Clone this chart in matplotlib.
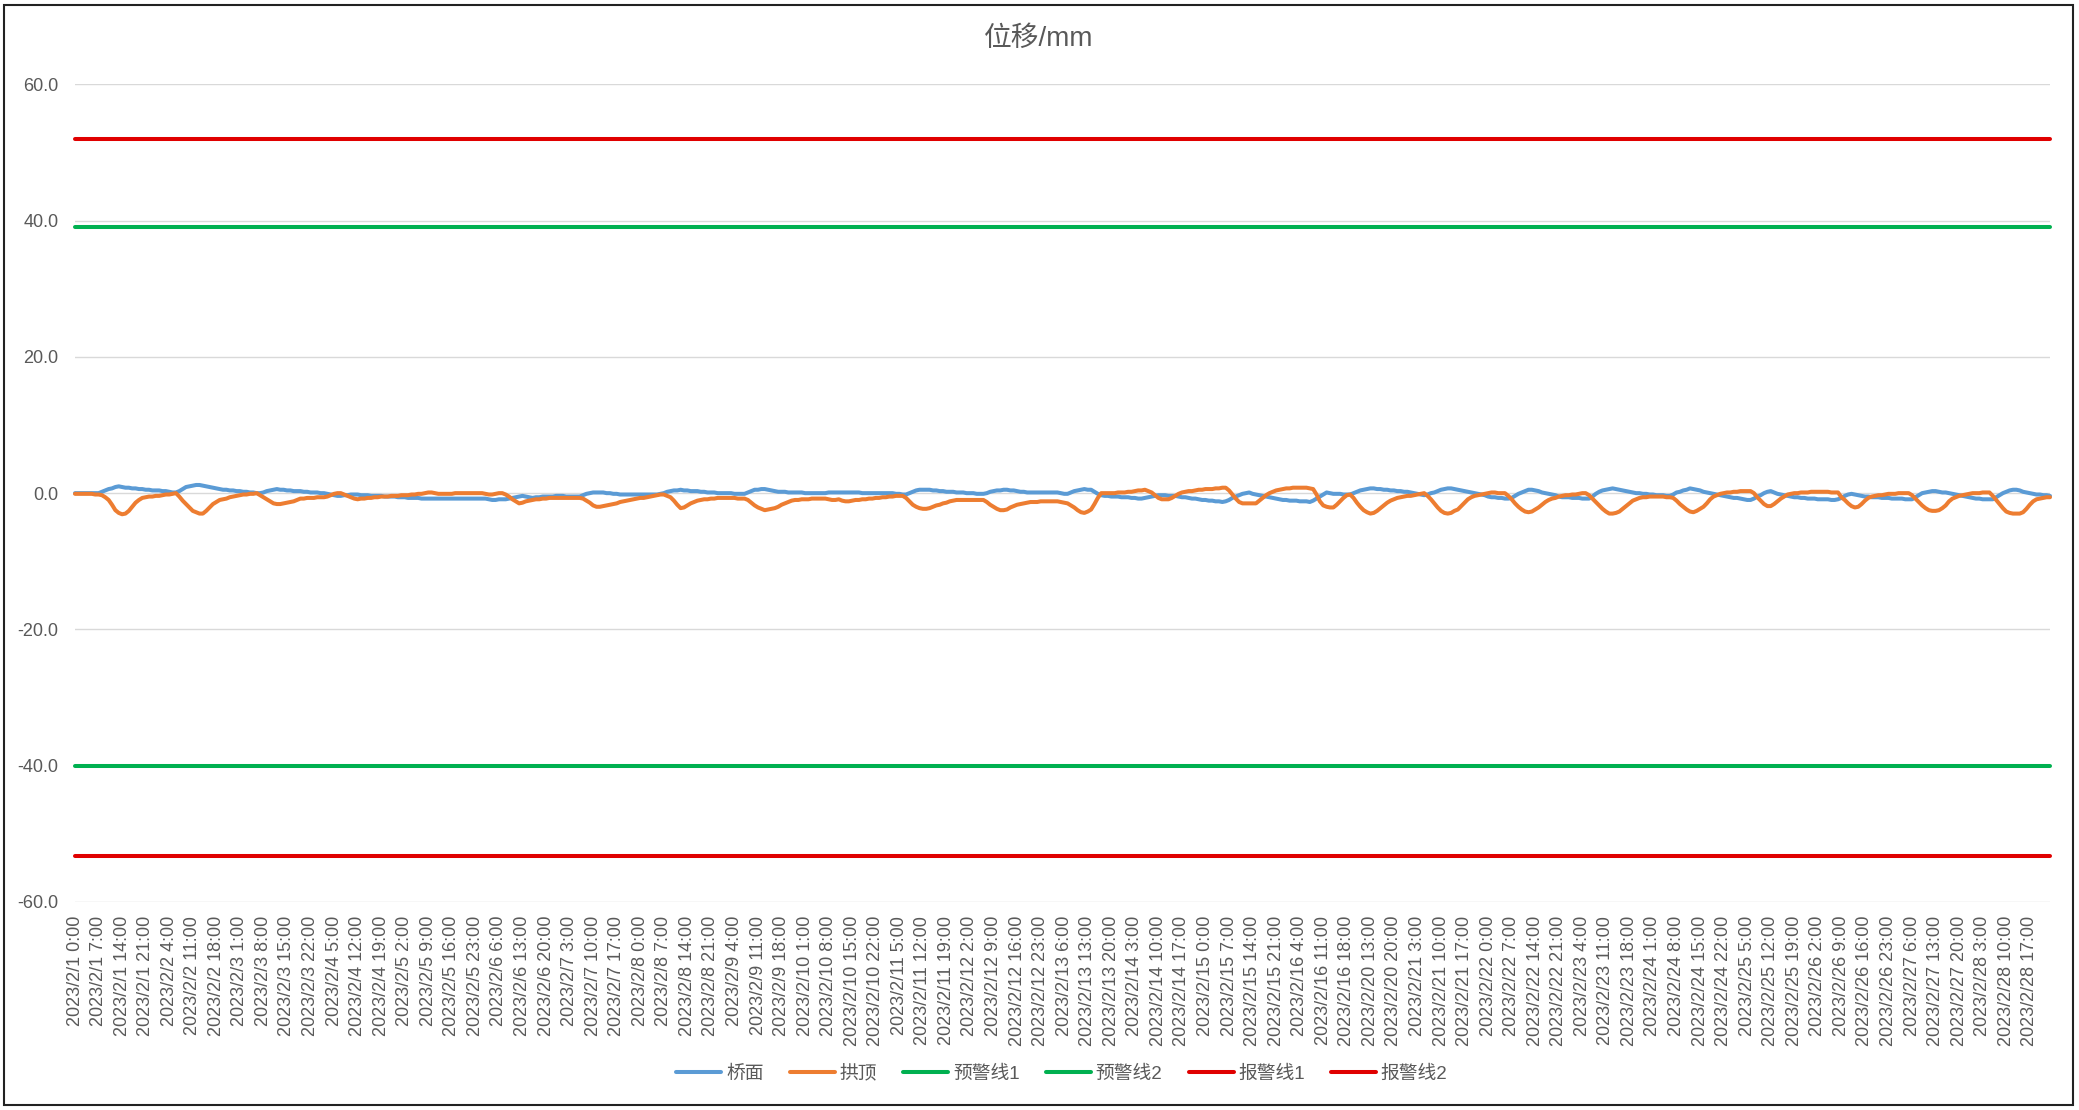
import numpy as np
import pandas as pd
import matplotlib
matplotlib.use("Agg")
import matplotlib.pyplot as plt
from matplotlib.patches import Rectangle

plt.rcParams['font.family'] = ['Liberation Sans', 'Noto Sans CJK SC', 'DejaVu Sans']

# ---------------- data ----------------
# hourly categories (data gap between 2/16 21:00 and 2/20 10:00)
seg1_start, seg1_periods = "2023-02-01 00:00", 382
seg2_start, seg2_periods = "2023-02-20 10:00", 206

series_names = ["桥面", "拱顶", "预警线1", "预警线2", "报警线1", "报警线2"]

qiaomian = [
    0.0, 0.0, 0.0, 0.0, 0.0, 0.0, 0.0, 0.0, 0.2, 0.4,
    0.6, 0.7, 0.9, 1.0, 0.9, 0.8, 0.8, 0.7, 0.7, 0.6,
    0.6, 0.5, 0.5, 0.4, 0.4, 0.4, 0.3, 0.3, 0.2, 0.1,
    0.1, 0.3, 0.6, 0.9, 1.0, 1.1, 1.2, 1.2, 1.1, 1.0,
    0.9, 0.8, 0.7, 0.6, 0.5, 0.5, 0.4, 0.4, 0.3, 0.3,
    0.2, 0.2, 0.1, 0.1, 0.0, 0.0, 0.1, 0.3, 0.4, 0.5,
    0.6, 0.5, 0.5, 0.4, 0.4, 0.3, 0.3, 0.3, 0.2, 0.2,
    0.1, 0.1, 0.1, 0.0, 0.0, -0.1, -0.2, -0.3, -0.4, -0.4,
    -0.3, -0.3, -0.2, -0.2, -0.2, -0.3, -0.3, -0.3, -0.4, -0.4,
    -0.4, -0.4, -0.5, -0.5, -0.5, -0.5, -0.6, -0.6, -0.6, -0.7,
    -0.7, -0.7, -0.7, -0.8, -0.8, -0.8, -0.8, -0.8, -0.8, -0.8,
    -0.8, -0.8, -0.8, -0.8, -0.8, -0.8, -0.8, -0.8, -0.8, -0.8,
    -0.8, -0.8, -0.8, -0.9, -1.0, -1.0, -0.9, -0.9, -0.9, -0.8,
    -0.7, -0.6, -0.5, -0.4, -0.5, -0.6, -0.7, -0.6, -0.6, -0.5,
    -0.5, -0.5, -0.5, -0.4, -0.4, -0.4, -0.5, -0.5, -0.5, -0.5,
    -0.5, -0.3, -0.1, 0.0, 0.1, 0.1, 0.1, 0.1, 0.0, 0.0,
    -0.1, -0.1, -0.2, -0.2, -0.2, -0.2, -0.2, -0.2, -0.2, -0.2,
    -0.2, -0.2, -0.2, -0.2, -0.1, 0.0, 0.2, 0.3, 0.4, 0.4,
    0.5, 0.4, 0.4, 0.3, 0.3, 0.3, 0.2, 0.2, 0.1, 0.1,
    0.1, 0.0, 0.0, 0.0, 0.0, 0.0, -0.1, -0.1, -0.1, -0.1,
    0.1, 0.3, 0.5, 0.5, 0.6, 0.6, 0.5, 0.4, 0.3, 0.2,
    0.2, 0.2, 0.1, 0.1, 0.1, 0.1, 0.1, 0.0, 0.0, 0.0,
    0.0, 0.0, 0.0, 0.0, 0.1, 0.1, 0.1, 0.1, 0.1, 0.1,
    0.1, 0.1, 0.1, 0.1, 0.0, 0.0, 0.0, 0.0, 0.0, 0.0,
    0.0, 0.0, 0.0, 0.0, -0.1, -0.1, -0.2, -0.2, 0.0, 0.2,
    0.4, 0.5, 0.5, 0.5, 0.5, 0.4, 0.4, 0.3, 0.3, 0.2,
    0.2, 0.2, 0.1, 0.1, 0.1, 0.0, 0.0, 0.0, -0.1, -0.1,
    -0.1, 0.0, 0.2, 0.3, 0.4, 0.4, 0.5, 0.5, 0.4, 0.4,
    0.3, 0.2, 0.2, 0.1, 0.1, 0.1, 0.1, 0.1, 0.1, 0.1,
    0.1, 0.1, 0.1, 0.0, -0.1, -0.1, 0.1, 0.3, 0.4, 0.5,
    0.6, 0.5, 0.5, 0.2, -0.1, -0.3, -0.4, -0.4, -0.5, -0.5,
    -0.5, -0.6, -0.6, -0.6, -0.7, -0.7, -0.8, -0.8, -0.7, -0.6,
    -0.5, -0.4, -0.3, -0.3, -0.3, -0.4, -0.4, -0.4, -0.5, -0.6,
    -0.6, -0.7, -0.8, -0.8, -0.9, -1.0, -1.0, -1.1, -1.1, -1.2,
    -1.2, -1.3, -1.2, -1.0, -0.7, -0.5, -0.3, -0.1, 0.0, 0.1,
    -0.1, -0.2, -0.3, -0.4, -0.5, -0.6, -0.7, -0.8, -0.9, -1.0,
    -1.0, -1.1, -1.1, -1.1, -1.2, -1.2, -1.2, -1.3, -1.1, -0.8,
    -0.5, -0.2, 0.1, 0.0, -0.1, -0.1, -0.1, -0.2, -0.2, -0.2,
    0.0, 0.2, 0.4, 0.5, 0.6, 0.7, 0.7, 0.6, 0.6, 0.5,
    0.5, 0.4, 0.4, 0.3, 0.3, 0.2, 0.2, 0.1, 0.0, -0.1,
    -0.2, -0.3, -0.2, 0.0, 0.1, 0.3, 0.5, 0.6, 0.7, 0.7,
    0.6, 0.5, 0.4, 0.3, 0.2, 0.1, 0.0, -0.1, -0.2, -0.3,
    -0.5, -0.6, -0.6, -0.7, -0.7, -0.8, -0.8, -0.7, -0.4, -0.1,
    0.1, 0.3, 0.5, 0.5, 0.4, 0.3, 0.1, 0.0, -0.1, -0.2,
    -0.3, -0.5, -0.6, -0.6, -0.6, -0.7, -0.7, -0.7, -0.8, -0.8,
    -0.8, -0.5, -0.1, 0.2, 0.4, 0.5, 0.6, 0.7, 0.6, 0.5,
    0.4, 0.3, 0.2, 0.1, 0.0, 0.0, -0.1, -0.1, -0.2, -0.2,
    -0.3, -0.3, -0.3, -0.4, -0.4, -0.2, 0.1, 0.2, 0.4, 0.5,
    0.7, 0.6, 0.5, 0.4, 0.2, 0.1, 0.0, -0.1, -0.2, -0.3,
    -0.4, -0.5, -0.6, -0.7, -0.7, -0.8, -0.9, -1.0, -1.0, -0.8,
    -0.5, -0.3, 0.0, 0.2, 0.3, 0.1, -0.1, -0.2, -0.3, -0.4,
    -0.5, -0.6, -0.6, -0.7, -0.7, -0.8, -0.8, -0.8, -0.9, -0.9,
    -0.9, -0.9, -1.0, -1.0, -0.9, -0.7, -0.4, -0.2, -0.1, -0.2,
    -0.3, -0.4, -0.5, -0.5, -0.6, -0.6, -0.6, -0.7, -0.7, -0.7,
    -0.8, -0.8, -0.8, -0.8, -0.9, -0.9, -0.9, -0.6, -0.3, 0.0,
    0.1, 0.2, 0.3, 0.3, 0.2, 0.1, 0.1, 0.0, -0.1, -0.2,
    -0.3, -0.4, -0.5, -0.6, -0.7, -0.8, -0.8, -0.9, -0.9, -0.9,
    -0.9, -0.6, -0.3, 0.0, 0.2, 0.4, 0.5, 0.5, 0.4, 0.2,
    0.1, 0.0, -0.1, -0.2, -0.2, -0.3, -0.3, -0.4,
]

gongding = [
    -0.1, -0.1, -0.1, -0.1, -0.1, -0.1, -0.2, -0.2, -0.3, -0.6,
    -1.0, -1.7, -2.5, -2.9, -3.1, -3.0, -2.6, -2.0, -1.4, -1.0,
    -0.7, -0.6, -0.5, -0.5, -0.4, -0.4, -0.3, -0.2, -0.2, -0.1,
    0.0, -0.5, -1.1, -1.6, -2.1, -2.6, -2.8, -3.0, -3.0, -2.6,
    -2.1, -1.6, -1.3, -1.0, -0.9, -0.8, -0.6, -0.5, -0.4, -0.3,
    -0.2, -0.2, -0.1, -0.1, 0.0, -0.3, -0.6, -0.9, -1.2, -1.5,
    -1.6, -1.6, -1.5, -1.4, -1.3, -1.2, -1.0, -0.8, -0.8, -0.7,
    -0.7, -0.7, -0.6, -0.6, -0.6, -0.5, -0.3, -0.1, 0.0, 0.0,
    -0.2, -0.4, -0.6, -0.8, -0.9, -0.8, -0.8, -0.7, -0.7, -0.6,
    -0.6, -0.5, -0.5, -0.5, -0.4, -0.4, -0.4, -0.3, -0.3, -0.3,
    -0.2, -0.2, -0.1, -0.1, 0.0, 0.1, 0.1, 0.0, -0.1, -0.1,
    -0.1, -0.1, -0.1, 0.0, 0.0, 0.0, 0.0, 0.0, 0.0, 0.0,
    0.0, 0.0, -0.1, -0.2, -0.2, -0.1, 0.0, 0.0, -0.2, -0.5,
    -0.9, -1.2, -1.5, -1.4, -1.2, -1.1, -1.0, -0.9, -0.9, -0.8,
    -0.8, -0.7, -0.7, -0.7, -0.7, -0.7, -0.7, -0.7, -0.7, -0.7,
    -0.7, -0.8, -1.1, -1.4, -1.8, -2.0, -2.0, -1.9, -1.8, -1.7,
    -1.6, -1.5, -1.3, -1.2, -1.1, -1.0, -0.9, -0.8, -0.7, -0.7,
    -0.6, -0.5, -0.4, -0.3, -0.2, -0.2, -0.4, -0.6, -1.1, -1.7,
    -2.2, -2.1, -1.8, -1.5, -1.3, -1.1, -1.0, -0.9, -0.9, -0.8,
    -0.8, -0.7, -0.7, -0.7, -0.7, -0.7, -0.7, -0.8, -0.8, -0.8,
    -1.0, -1.4, -1.8, -2.1, -2.3, -2.5, -2.4, -2.3, -2.2, -2.0,
    -1.7, -1.5, -1.3, -1.1, -1.0, -1.0, -0.9, -0.9, -0.9, -0.8,
    -0.8, -0.8, -0.8, -0.8, -0.9, -1.0, -1.0, -0.9, -1.1, -1.2,
    -1.2, -1.1, -1.0, -1.0, -0.9, -0.9, -0.8, -0.8, -0.7, -0.7,
    -0.6, -0.6, -0.5, -0.5, -0.4, -0.4, -0.4, -0.7, -1.2, -1.7,
    -2.0, -2.2, -2.3, -2.3, -2.2, -2.0, -1.8, -1.7, -1.5, -1.4,
    -1.2, -1.1, -1.0, -1.0, -1.0, -1.0, -1.0, -1.0, -1.0, -1.0,
    -1.0, -1.3, -1.7, -2.0, -2.3, -2.5, -2.5, -2.4, -2.1, -1.9,
    -1.7, -1.6, -1.5, -1.4, -1.3, -1.3, -1.3, -1.2, -1.2, -1.2,
    -1.2, -1.2, -1.2, -1.3, -1.4, -1.5, -1.8, -2.1, -2.5, -2.8,
    -2.9, -2.7, -2.4, -1.6, -0.7, 0.0, 0.0, 0.0, 0.0, 0.0,
    0.1, 0.1, 0.1, 0.2, 0.2, 0.3, 0.4, 0.4, 0.5, 0.3,
    0.1, -0.3, -0.7, -0.9, -0.9, -0.9, -0.7, -0.4, -0.1, 0.1,
    0.2, 0.3, 0.3, 0.4, 0.5, 0.5, 0.6, 0.6, 0.6, 0.7,
    0.7, 0.8, 0.8, 0.4, -0.2, -0.8, -1.3, -1.5, -1.5, -1.5,
    -1.5, -1.5, -1.1, -0.7, -0.3, 0.0, 0.2, 0.4, 0.5, 0.6,
    0.7, 0.7, 0.8, 0.8, 0.8, 0.8, 0.8, 0.7, 0.6, -0.2,
    -1.2, -1.8, -2.0, -2.1, -2.1, -1.7, -1.2, -0.7, -0.3, -0.2,
    -0.7, -1.4, -2.0, -2.5, -2.8, -3.0, -2.9, -2.6, -2.2, -1.8,
    -1.4, -1.1, -0.9, -0.7, -0.6, -0.5, -0.4, -0.4, -0.3, -0.2,
    -0.1, 0.0, -0.4, -0.9, -1.5, -2.1, -2.6, -2.9, -3.0, -2.9,
    -2.6, -2.4, -1.9, -1.4, -0.9, -0.6, -0.4, -0.3, -0.2, -0.1,
    0.0, 0.1, 0.1, 0.0, 0.0, 0.0, -0.4, -0.9, -1.5, -2.0,
    -2.4, -2.7, -2.8, -2.7, -2.4, -2.1, -1.7, -1.3, -1.0, -0.8,
    -0.7, -0.5, -0.4, -0.3, -0.3, -0.2, -0.2, -0.1, 0.0, 0.0,
    -0.3, -0.8, -1.3, -1.8, -2.3, -2.7, -3.0, -3.0, -2.9, -2.7,
    -2.3, -1.9, -1.5, -1.1, -0.9, -0.7, -0.6, -0.6, -0.5, -0.5,
    -0.5, -0.5, -0.5, -0.6, -0.6, -0.7, -1.1, -1.6, -2.0, -2.4,
    -2.7, -2.8, -2.6, -2.3, -2.0, -1.5, -0.9, -0.5, -0.3, -0.1,
    0.0, 0.1, 0.1, 0.2, 0.2, 0.3, 0.3, 0.3, 0.3, 0.0,
    -0.6, -1.1, -1.6, -1.9, -1.9, -1.6, -1.2, -0.8, -0.5, -0.2,
    -0.1, 0.0, 0.0, 0.1, 0.1, 0.1, 0.2, 0.2, 0.2, 0.2,
    0.2, 0.2, 0.1, 0.1, 0.1, -0.6, -1.0, -1.5, -1.9, -2.1,
    -2.0, -1.6, -1.1, -0.7, -0.5, -0.4, -0.3, -0.3, -0.2, -0.1,
    -0.1, -0.1, 0.0, 0.0, 0.0, 0.0, -0.3, -0.8, -1.3, -1.8,
    -2.2, -2.5, -2.6, -2.6, -2.5, -2.2, -1.8, -1.2, -0.8, -0.6,
    -0.4, -0.3, -0.2, -0.1, 0.0, 0.0, 0.0, 0.1, 0.1, 0.1,
    -0.4, -1.0, -1.6, -2.2, -2.7, -2.9, -3.0, -3.0, -3.0, -2.8,
    -2.3, -1.7, -1.2, -0.9, -0.8, -0.7, -0.6, -0.6,
]

warn1_value = 39.0
warn2_value = -40.0
alarm1_value = 52.0
alarm2_value = -53.2

y_ticks = [-60, -40, -20, 0, 20, 40, 60]
label_step = 7

# ---------------- build ----------------
times = list(pd.date_range(seg1_start, periods=seg1_periods, freq="h")) + \
        list(pd.date_range(seg2_start, periods=seg2_periods, freq="h"))
cat_labels = [f"{t.year}/{t.month}/{t.day} {t.hour}:{t.minute:02d}" for t in times]
N = len(cat_labels)
x = np.arange(N)

W, H, DPI = 2079, 1110, 100
fig = plt.figure(figsize=(W / DPI, H / DPI), dpi=DPI)
ax = fig.add_axes([75 / W, 1 - 902 / H, (2050 - 75) / W, (902 - 84.3) / H])

text_color = "#595959"
lw = 2.9
series = [
    (qiaomian, "#5B9BD5"),
    (gongding, "#ED7D31"),
    ([warn1_value] * N, "#00B050"),
    ([warn2_value] * N, "#00B050"),
    ([alarm1_value] * N, "#E00000"),
    ([alarm2_value] * N, "#E00000"),
]
for name, (vals, col) in zip(series_names, series):
    ax.plot(x, vals, color=col, lw=lw, label=name, solid_capstyle="round",
            solid_joinstyle="round", clip_on=False)

ax.set_xlim(0, N - 1)
ax.set_ylim(-60, 60)
ax.set_yticks(y_ticks)
ax.set_yticklabels([f"{v:.1f}" for v in y_ticks])
ax.set_xticks(x[::label_step])
ax.set_xticklabels(cat_labels[::label_step], rotation=90, va="top", ha="center")
ax.tick_params(axis="x", length=0, pad=10, labelsize=13, labelcolor=text_color)
ax.tick_params(axis="y", length=0, pad=12, labelsize=13, labelcolor=text_color)
ax.yaxis.grid(True, color="#D9D9D9", lw=1.0)
ax.set_axisbelow(True)
for s in ax.spines.values():
    s.set_visible(False)

fig.text(1039 / W, 1 - 39 / H, "位移/mm", ha="center", va="center",
         fontsize=20, color=text_color)

fig.legend(loc="center", bbox_to_anchor=(1062 / W, 1 - 1074 / H), ncol=6,
           frameon=False, fontsize=13.5, handlelength=2.4, handletextpad=0.25,
           columnspacing=1.4, labelcolor=text_color)

fig.patches.append(Rectangle((4 / W, 5 / H), (2073 - 4) / W, (1105 - 5) / H,
                             transform=fig.transFigure, fill=False,
                             edgecolor="#222222", lw=1.5))

fig.savefig("out.png", dpi=DPI, facecolor="white")
